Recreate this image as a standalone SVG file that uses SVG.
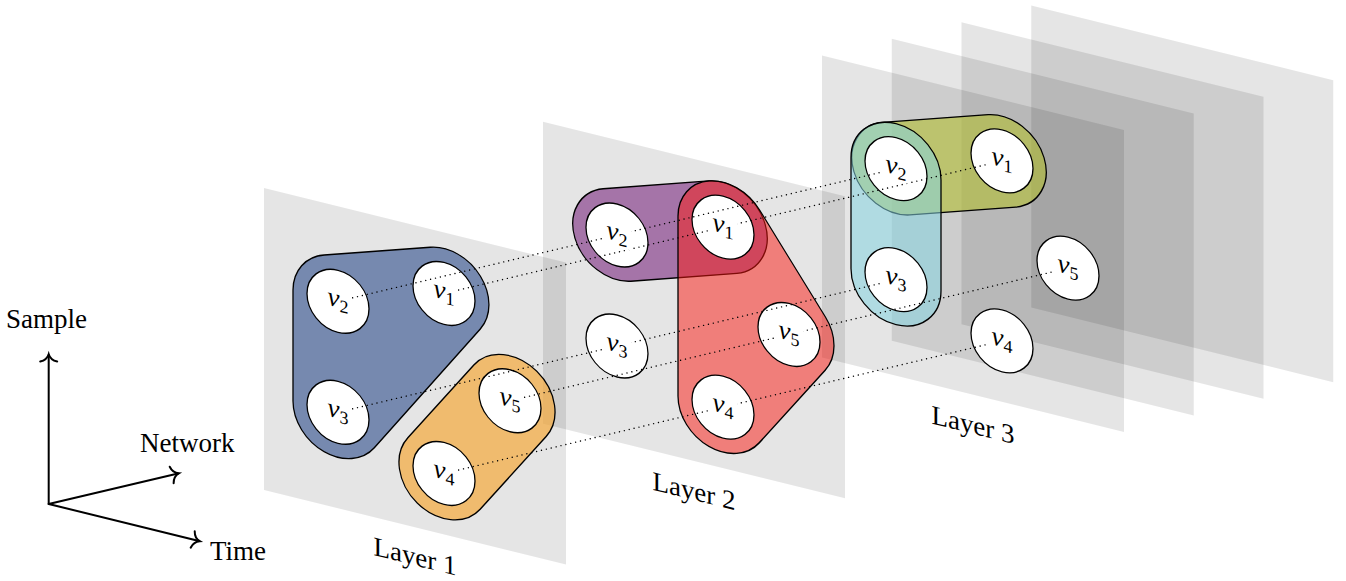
<svg xmlns="http://www.w3.org/2000/svg" xmlns:xlink="http://www.w3.org/1999/xlink" width="1346" height="581" viewBox="0 0 1346 581">
<style>
.plane{fill:#000;fill-opacity:0.1}
.he{stroke:#000;stroke-width:1.3;stroke-linejoin:round}
.bg{fill:#fff}
.nd{fill:none;stroke:#000;stroke-width:1.3}
.lb{fill:#fff}
.lbl{font-family:"Liberation Serif","DejaVu Serif",serif;font-size:27px;font-style:italic;fill:#000}
.sub{font-size:18px;font-style:normal}
.conn{fill:none;stroke:#000;stroke-width:1.4;stroke-dasharray:0.01 5;stroke-linecap:round}
.txt{font-family:"Liberation Serif","DejaVu Serif",serif;font-size:27px;fill:#000}
.axis{fill:none;stroke:#000;stroke-width:2;stroke-linecap:round}
</style>
<defs>
<rect id="pl" x="0" y="0" width="302" height="302"/>
<circle id="nc" r="31"/>
<path id="cap21" d="M60.25,52.16 L166.25,18.16 A45,45 0 0 1 193.75,103.84 L87.75,137.84 A45,45 0 0 1 60.25,52.16 Z"/>
<marker id="arr" viewBox="-10 -12 14 24" refX="0" refY="0" markerWidth="14" markerHeight="24" markerUnits="userSpaceOnUse" orient="auto" overflow="visible">
<path d="M-6.5,-8.5 C-5.5,-4 -2.5,-1 0.8,0 C-2.5,1 -5.5,4 -6.5,8.5" fill="none" stroke="#000" stroke-width="2" stroke-linecap="round"/>
</marker>
</defs>

<!-- planes -->
<g id="planes">
<use id="plane-layer1" href="#pl" class="plane" transform="matrix(1,0.247,0,1,264,188)"/>
<use id="plane-layer2" href="#pl" class="plane" transform="matrix(1,0.247,0,1,543,121.7)"/>
<use id="plane-layer3" href="#pl" class="plane" transform="matrix(1,0.247,0,1,822,55.4)"/>
<use id="plane-4" href="#pl" class="plane" transform="matrix(1,0.247,0,1,891.75,38.8)"/>
<use id="plane-5" href="#pl" class="plane" transform="matrix(1,0.247,0,1,961.5,22.2)"/>
<use id="plane-6" href="#pl" class="plane" transform="matrix(1,0.247,0,1,1031.25,5.6)"/>
</g>

<!-- hyperedges -->
<g id="layer1-hyperedges" transform="matrix(1,0.247,0,1,264,188)">
<path id="he-blue" class="he" fill="rgb(80,106,156)" fill-opacity="0.75" d="M60.25,52.16 L166.25,18.16 A45,45 0 0 1 216.3,87.55 L110.3,232.55 A45,45 0 0 1 29,206 L29,95 A45,45 0 0 1 60.25,52.16 Z"/>
<path id="he-orange" class="he" fill="rgb(245,169,60)" fill-opacity="0.7" d="M209.85,125.2 A45,45 0 0 1 282.15,178.8 L216.15,267.8 A45,45 0 0 1 143.85,214.2 Z"/>
</g>
<g id="layer2-hyperedges" transform="matrix(1,0.247,0,1,543,121.7)">
<use id="he-purple" href="#cap21" class="he" fill="rgb(138,68,142)" fill-opacity="0.7"/>
<path id="he-red" class="he" fill="rgb(251,23,15)" fill-opacity="0.5" d="M216.43,34.6 L282.43,125.6 A45,45 0 0 1 282.15,178.8 L216.15,267.8 A45,45 0 0 1 135,241 L135,61 A45,45 0 0 1 216.43,34.6 Z"/>
</g>
<g id="layer3-hyperedges" transform="matrix(1,0.247,0,1,822,55.4)">
<use id="he-lime" href="#cap21" class="he" fill="rgb(176,189,46)" fill-opacity="0.6"/>
<path id="he-lightblue" class="he" fill="rgb(133,211,224)" fill-opacity="0.55" d="M29,95 A45,45 0 0 1 119,95 L119,206 A45,45 0 0 1 29,206 Z"/>
</g>

<!-- node backgrounds -->
<g id="node-backgrounds" class="bg">
<g transform="matrix(1,0.247,0,1,264,188)">
<use href="#nc" x="180" y="61"/><use href="#nc" x="74" y="95"/><use href="#nc" x="74" y="206"/><use href="#nc" x="180" y="241"/><use href="#nc" x="246" y="152"/>
</g>
<g transform="matrix(1,0.247,0,1,543,121.7)">
<use href="#nc" x="180" y="61"/><use href="#nc" x="74" y="95"/><use href="#nc" x="74" y="206"/><use href="#nc" x="180" y="241"/><use href="#nc" x="246" y="152"/>
</g>
<g transform="matrix(1,0.247,0,1,822,55.4)">
<use href="#nc" x="180" y="61"/><use href="#nc" x="74" y="95"/><use href="#nc" x="74" y="206"/><use href="#nc" x="180" y="241"/><use href="#nc" x="246" y="152"/>
</g>
</g>

<!-- connectors -->
<g id="connectors" class="conn">
<path d="M444,293.46 L1002,160.86"/>
<path d="M338,301.28 L896,168.68"/>
<path d="M338,412.28 L896,279.68"/>
<path d="M444,473.46 L1002,340.86"/>
<path d="M510,400.76 L1068,268.16"/>
</g>

<!-- nodes -->
<g id="layer1-nodes" transform="matrix(1,0.247,0,1,264,188)">
<g id="L1-v1"><use href="#nc" x="180" y="61" class="nd"/><rect class="lb" x="166" y="52" width="28" height="21"/><text class="lbl" x="180" y="67" text-anchor="middle">v<tspan class="sub" dy="4">1</tspan></text></g>
<g id="L1-v2"><use href="#nc" x="74" y="95" class="nd"/><rect class="lb" x="60" y="86" width="28" height="21"/><text class="lbl" x="74" y="101" text-anchor="middle">v<tspan class="sub" dy="4">2</tspan></text></g>
<g id="L1-v3"><use href="#nc" x="74" y="206" class="nd"/><rect class="lb" x="60" y="197" width="28" height="21"/><text class="lbl" x="74" y="212" text-anchor="middle">v<tspan class="sub" dy="4">3</tspan></text></g>
<g id="L1-v4"><use href="#nc" x="180" y="241" class="nd"/><rect class="lb" x="166" y="232" width="28" height="21"/><text class="lbl" x="180" y="247" text-anchor="middle">v<tspan class="sub" dy="4">4</tspan></text></g>
<g id="L1-v5"><use href="#nc" x="246" y="152" class="nd"/><rect class="lb" x="232" y="143" width="28" height="21"/><text class="lbl" x="246" y="158" text-anchor="middle">v<tspan class="sub" dy="4">5</tspan></text></g>
</g>
<g id="layer2-nodes" transform="matrix(1,0.247,0,1,543,121.7)">
<g id="L2-v1"><use href="#nc" x="180" y="61" class="nd"/><rect class="lb" x="166" y="52" width="28" height="21"/><text class="lbl" x="180" y="67" text-anchor="middle">v<tspan class="sub" dy="4">1</tspan></text></g>
<g id="L2-v2"><use href="#nc" x="74" y="95" class="nd"/><rect class="lb" x="60" y="86" width="28" height="21"/><text class="lbl" x="74" y="101" text-anchor="middle">v<tspan class="sub" dy="4">2</tspan></text></g>
<g id="L2-v3"><use href="#nc" x="74" y="206" class="nd"/><rect class="lb" x="60" y="197" width="28" height="21"/><text class="lbl" x="74" y="212" text-anchor="middle">v<tspan class="sub" dy="4">3</tspan></text></g>
<g id="L2-v4"><use href="#nc" x="180" y="241" class="nd"/><rect class="lb" x="166" y="232" width="28" height="21"/><text class="lbl" x="180" y="247" text-anchor="middle">v<tspan class="sub" dy="4">4</tspan></text></g>
<g id="L2-v5"><use href="#nc" x="246" y="152" class="nd"/><rect class="lb" x="232" y="143" width="28" height="21"/><text class="lbl" x="246" y="158" text-anchor="middle">v<tspan class="sub" dy="4">5</tspan></text></g>
</g>
<g id="layer3-nodes" transform="matrix(1,0.247,0,1,822,55.4)">
<g id="L3-v1"><use href="#nc" x="180" y="61" class="nd"/><rect class="lb" x="166" y="52" width="28" height="21"/><text class="lbl" x="180" y="67" text-anchor="middle">v<tspan class="sub" dy="4">1</tspan></text></g>
<g id="L3-v2"><use href="#nc" x="74" y="95" class="nd"/><rect class="lb" x="60" y="86" width="28" height="21"/><text class="lbl" x="74" y="101" text-anchor="middle">v<tspan class="sub" dy="4">2</tspan></text></g>
<g id="L3-v3"><use href="#nc" x="74" y="206" class="nd"/><rect class="lb" x="60" y="197" width="28" height="21"/><text class="lbl" x="74" y="212" text-anchor="middle">v<tspan class="sub" dy="4">3</tspan></text></g>
<g id="L3-v4"><use href="#nc" x="180" y="241" class="nd"/><rect class="lb" x="166" y="232" width="28" height="21"/><text class="lbl" x="180" y="247" text-anchor="middle">v<tspan class="sub" dy="4">4</tspan></text></g>
<g id="L3-v5"><use href="#nc" x="246" y="152" class="nd"/><rect class="lb" x="232" y="143" width="28" height="21"/><text class="lbl" x="246" y="158" text-anchor="middle">v<tspan class="sub" dy="4">5</tspan></text></g>
</g>

<!-- layer labels -->
<g id="layer-labels" class="txt" text-anchor="middle">
<text transform="matrix(1,0.247,0,1,264,188)" x="151" y="340">Layer 1</text>
<text transform="matrix(1,0.247,0,1,543,121.7)" x="151" y="341">Layer 2</text>
<text transform="matrix(1,0.247,0,1,822,55.4)" x="151" y="341">Layer 3</text>
</g>

<!-- axes -->
<g id="axes">
<path class="axis" d="M48.7,504 L48.7,355" marker-end="url(#arr)"/>
<path class="axis" d="M48.7,504 L178,473.5" marker-end="url(#arr)"/>
<path class="axis" d="M48.7,504 L199,541" marker-end="url(#arr)"/>
<text class="txt" x="6" y="328">Sample</text>
<text class="txt" x="140" y="452">Network</text>
<text class="txt" x="210" y="560">Time</text>
</g>
</svg>
